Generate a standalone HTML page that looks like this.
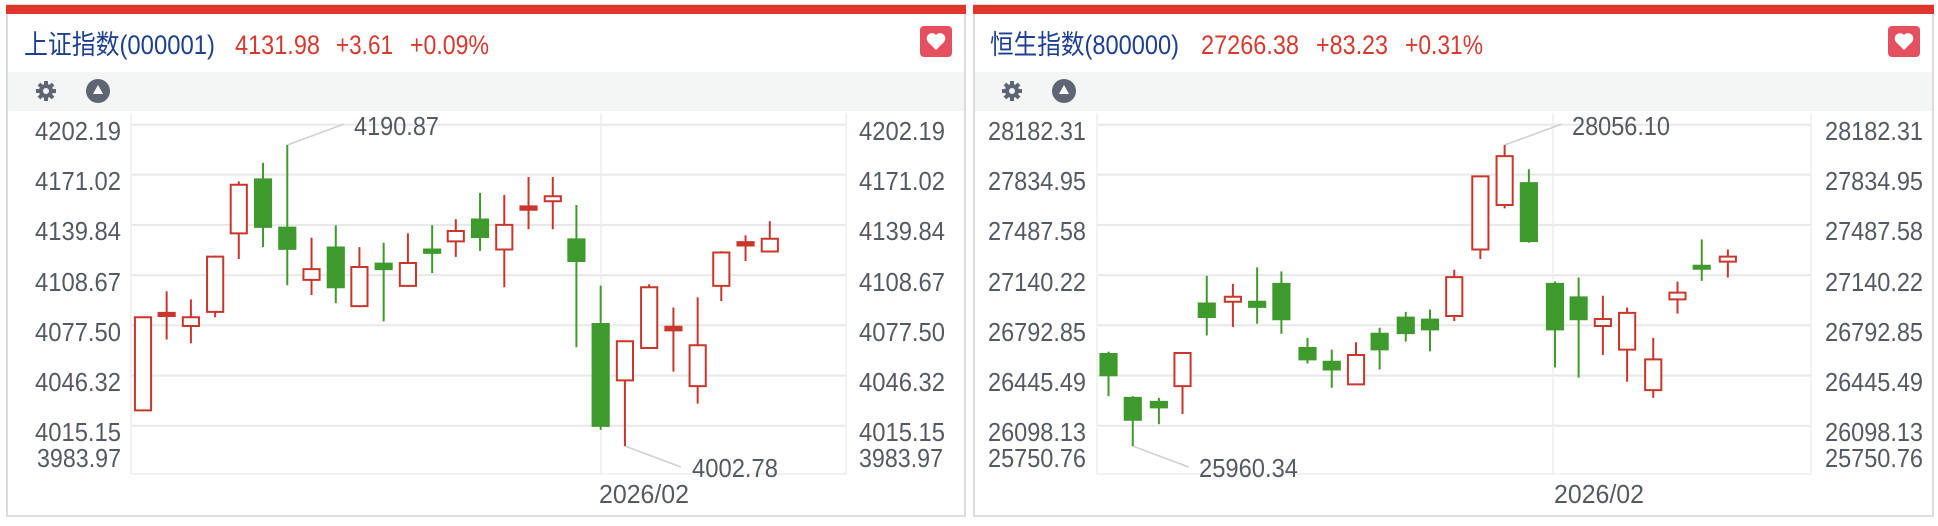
<!DOCTYPE html>
<html><head><meta charset="utf-8"><style>
html,body{margin:0;padding:0;background:#fff;}
svg{display:block;}
text{font-family:"Liberation Sans","Noto Sans CJK SC",sans-serif;}
.lb{font-size:26px;fill:#555a62;}
.an{font-size:26px;fill:#555a62;}
.r{stroke:#c8372d;stroke-width:2;fill:#fff;vector-effect:non-scaling-stroke;}
.rf{stroke:#c8372d;stroke-width:2;fill:#c8372d;vector-effect:non-scaling-stroke;}
.g{stroke:#3f9a2e;stroke-width:2;fill:#3f9a2e;vector-effect:non-scaling-stroke;}
.wr{stroke:#c8372d;stroke-width:2;vector-effect:non-scaling-stroke;}
.wg{stroke:#3f9a2e;stroke-width:2;vector-effect:non-scaling-stroke;}
.al{stroke:#cfcfcf;stroke-width:1.5;vector-effect:non-scaling-stroke;fill:none;}
</style></head><body>
<svg width="1938" height="526" viewBox="0 0 1938 526" xmlns="http://www.w3.org/2000/svg">
<rect x="7" y="5" width="958" height="511" fill="#fff" stroke="#dcdcdc" stroke-width="2"/>
<rect x="974" y="5" width="959" height="511" fill="#fff" stroke="#dcdcdc" stroke-width="2"/>
<rect x="6" y="5" width="960" height="9" fill="#e0352b"/>
<rect x="973" y="5" width="961" height="9" fill="#e0352b"/>
<rect x="8" y="72" width="956" height="39" fill="#f4f6f6"/>
<rect x="975" y="72" width="957" height="39" fill="#f4f6f6"/>
<rect x="920" y="26" width="32" height="31" rx="4" fill="#e5505f"/>
<path d="M936 50 L928 42 A4.5 4.5 0 0 1 936 35 A4.5 4.5 0 0 1 944 42 Z" fill="#fff"/>
<rect x="1888" y="26" width="32" height="31" rx="4" fill="#e5505f"/>
<path d="M1904 50 L1896 42 A4.5 4.5 0 0 1 1904 35 A4.5 4.5 0 0 1 1912 42 Z" fill="#fff"/>
<g fill="#5f6573">
<g transform="translate(46,91)"><circle r="7"/><g stroke="#5f6573" stroke-width="4"><line x1="0" y1="-10" x2="0" y2="10"/><line x1="-10" y1="0" x2="10" y2="0"/><line x1="-7" y1="-7" x2="7" y2="7"/><line x1="-7" y1="7" x2="7" y2="-7"/></g><circle r="3" fill="#f4f6f6"/></g>
<circle cx="98" cy="91" r="12"/><path d="M98 85 L103 94 L93 94 Z" fill="#fff"/>
<g transform="translate(1012,91)"><circle r="7"/><g stroke="#5f6573" stroke-width="4"><line x1="0" y1="-10" x2="0" y2="10"/><line x1="-10" y1="0" x2="10" y2="0"/><line x1="-7" y1="-7" x2="7" y2="7"/><line x1="-7" y1="7" x2="7" y2="-7"/></g><circle r="3" fill="#f4f6f6"/></g>
<circle cx="1064" cy="91" r="12"/><path d="M1064 85 L1069 94 L1059 94 Z" fill="#fff"/>
</g>
<g font-size="27">
<text x="24" y="54" fill="#1f3f8f" textLength="191" lengthAdjust="spacingAndGlyphs">上证指数(000001)</text>
<text x="235" y="54" fill="#d43a2f" textLength="85" lengthAdjust="spacingAndGlyphs">4131.98</text>
<text x="336" y="54" fill="#d43a2f" textLength="57" lengthAdjust="spacingAndGlyphs">+3.61</text>
<text x="410" y="54" fill="#d43a2f" textLength="79" lengthAdjust="spacingAndGlyphs">+0.09%</text>
<text x="990" y="54" fill="#1f3f8f" textLength="189" lengthAdjust="spacingAndGlyphs">恒生指数(800000)</text>
<text x="1201" y="54" fill="#d43a2f" textLength="98" lengthAdjust="spacingAndGlyphs">27266.38</text>
<text x="1316" y="54" fill="#d43a2f" textLength="72" lengthAdjust="spacingAndGlyphs">+83.23</text>
<text x="1405" y="54" fill="#d43a2f" textLength="78" lengthAdjust="spacingAndGlyphs">+0.31%</text>
</g>
<g stroke="#e8e8e8" stroke-width="2">
<line x1="131" y1="124.7" x2="846" y2="124.7"/><line x1="131" y1="174.6" x2="846" y2="174.6"/><line x1="131" y1="224.9" x2="846" y2="224.9"/><line x1="131" y1="275.1" x2="846" y2="275.1"/><line x1="131" y1="325.3" x2="846" y2="325.3"/><line x1="131" y1="375.6" x2="846" y2="375.6"/><line x1="131" y1="425.8" x2="846" y2="425.8"/>
<line x1="1097" y1="124.7" x2="1811" y2="124.7"/><line x1="1097" y1="174.6" x2="1811" y2="174.6"/><line x1="1097" y1="224.9" x2="1811" y2="224.9"/><line x1="1097" y1="275.1" x2="1811" y2="275.1"/><line x1="1097" y1="325.3" x2="1811" y2="325.3"/><line x1="1097" y1="375.6" x2="1811" y2="375.6"/><line x1="1097" y1="425.8" x2="1811" y2="425.8"/>
</g>
<g stroke="#eeeeee" stroke-width="1.5">
<line x1="131" y1="113" x2="131" y2="474"/><line x1="846" y1="113" x2="846" y2="474"/><line x1="131" y1="474" x2="846" y2="474"/><line x1="601" y1="113" x2="601" y2="474"/>
<line x1="1097" y1="113" x2="1097" y2="474"/><line x1="1811" y1="113" x2="1811" y2="474"/><line x1="1097" y1="474" x2="1811" y2="474"/><line x1="1553" y1="113" x2="1553" y2="474"/>
</g>
<g class="lb" text-anchor="end">
<text x="121" y="140" textLength="86" lengthAdjust="spacingAndGlyphs">4202.19</text>
<text x="121" y="190" textLength="86" lengthAdjust="spacingAndGlyphs">4171.02</text>
<text x="121" y="240" textLength="86" lengthAdjust="spacingAndGlyphs">4139.84</text>
<text x="121" y="291" textLength="86" lengthAdjust="spacingAndGlyphs">4108.67</text>
<text x="121" y="341" textLength="86" lengthAdjust="spacingAndGlyphs">4077.50</text>
<text x="121" y="391" textLength="86" lengthAdjust="spacingAndGlyphs">4046.32</text>
<text x="121" y="441" textLength="86" lengthAdjust="spacingAndGlyphs">4015.15</text>
<text x="121" y="467" textLength="84" lengthAdjust="spacingAndGlyphs">3983.97</text>
</g>
<g class="lb">
<text x="859" y="140" textLength="86" lengthAdjust="spacingAndGlyphs">4202.19</text>
<text x="859" y="190" textLength="86" lengthAdjust="spacingAndGlyphs">4171.02</text>
<text x="859" y="240" textLength="86" lengthAdjust="spacingAndGlyphs">4139.84</text>
<text x="859" y="291" textLength="86" lengthAdjust="spacingAndGlyphs">4108.67</text>
<text x="859" y="341" textLength="86" lengthAdjust="spacingAndGlyphs">4077.50</text>
<text x="859" y="391" textLength="86" lengthAdjust="spacingAndGlyphs">4046.32</text>
<text x="859" y="441" textLength="86" lengthAdjust="spacingAndGlyphs">4015.15</text>
<text x="859" y="467" textLength="84" lengthAdjust="spacingAndGlyphs">3983.97</text>
<text x="599" y="503" textLength="90" lengthAdjust="spacingAndGlyphs">2026/02</text>
</g>
<g class="lb" text-anchor="end">
<text x="1086" y="140" textLength="98" lengthAdjust="spacingAndGlyphs">28182.31</text>
<text x="1086" y="190" textLength="98" lengthAdjust="spacingAndGlyphs">27834.95</text>
<text x="1086" y="240" textLength="98" lengthAdjust="spacingAndGlyphs">27487.58</text>
<text x="1086" y="291" textLength="98" lengthAdjust="spacingAndGlyphs">27140.22</text>
<text x="1086" y="341" textLength="98" lengthAdjust="spacingAndGlyphs">26792.85</text>
<text x="1086" y="391" textLength="98" lengthAdjust="spacingAndGlyphs">26445.49</text>
<text x="1086" y="441" textLength="98" lengthAdjust="spacingAndGlyphs">26098.13</text>
<text x="1086" y="467" textLength="98" lengthAdjust="spacingAndGlyphs">25750.76</text>
</g>
<g class="lb">
<text x="1825" y="140" textLength="98" lengthAdjust="spacingAndGlyphs">28182.31</text>
<text x="1825" y="190" textLength="98" lengthAdjust="spacingAndGlyphs">27834.95</text>
<text x="1825" y="240" textLength="98" lengthAdjust="spacingAndGlyphs">27487.58</text>
<text x="1825" y="291" textLength="98" lengthAdjust="spacingAndGlyphs">27140.22</text>
<text x="1825" y="341" textLength="98" lengthAdjust="spacingAndGlyphs">26792.85</text>
<text x="1825" y="391" textLength="98" lengthAdjust="spacingAndGlyphs">26445.49</text>
<text x="1825" y="441" textLength="98" lengthAdjust="spacingAndGlyphs">26098.13</text>
<text x="1825" y="467" textLength="98" lengthAdjust="spacingAndGlyphs">25750.76</text>
<text x="1554" y="503" textLength="90" lengthAdjust="spacingAndGlyphs">2026/02</text>
</g>
<g class="an">
<text x="354" y="135" textLength="85" lengthAdjust="spacingAndGlyphs">4190.87</text>
<text x="692" y="477" textLength="86" lengthAdjust="spacingAndGlyphs">4002.78</text>
<text x="1572" y="135" textLength="98" lengthAdjust="spacingAndGlyphs">28056.10</text>
<text x="1199" y="477" textLength="99" lengthAdjust="spacingAndGlyphs">25960.34</text>
</g>
<g transform="scale(0.62181,0.33718)">
<path class="al" d="M462 430 L553 368 M1005 1323 L1095 1385"/>
<line class="wr" x1="230" y1="941" x2="230" y2="1220"/><rect class="r" x="217" y="941" width="26" height="276"/>
<line class="wr" x1="268" y1="864" x2="268" y2="1007"/><rect class="rf" x="255" y="928" width="26" height="9"/>
<line class="wr" x1="307" y1="888" x2="307" y2="1018"/><rect class="r" x="294" y="941" width="26" height="26"/>
<line class="wr" x1="346" y1="758" x2="346" y2="941"/><rect class="r" x="333" y="761" width="26" height="164"/>
<line class="wr" x1="384" y1="538" x2="384" y2="768"/><rect class="r" x="371" y="548" width="26" height="144"/>
<line class="wg" x1="423" y1="483" x2="423" y2="733"/><rect class="g" x="410" y="532" width="26" height="141"/>
<line class="wg" x1="462" y1="430" x2="462" y2="846"/><rect class="g" x="449" y="675" width="26" height="63"/>
<line class="wr" x1="501" y1="705" x2="501" y2="875"/><rect class="r" x="488" y="798" width="26" height="32"/>
<line class="wg" x1="540" y1="668" x2="540" y2="899"/><rect class="g" x="527" y="734" width="26" height="118"/>
<line class="wr" x1="578" y1="733" x2="578" y2="911"/><rect class="r" x="565" y="792" width="26" height="116"/>
<line class="wg" x1="617" y1="720" x2="617" y2="953"/><rect class="g" x="604" y="782" width="26" height="16"/>
<line class="wr" x1="656" y1="692" x2="656" y2="848"/><rect class="r" x="643" y="780" width="26" height="68"/>
<line class="wg" x1="695" y1="668" x2="695" y2="810"/><rect class="g" x="682" y="740" width="26" height="10"/>
<line class="wr" x1="733" y1="650" x2="733" y2="762"/><rect class="r" x="720" y="685" width="26" height="31"/>
<line class="wg" x1="772" y1="572" x2="772" y2="744"/><rect class="g" x="759" y="651" width="26" height="52"/>
<line class="wr" x1="811" y1="578" x2="811" y2="852"/><rect class="r" x="798" y="667" width="26" height="73"/>
<line class="wr" x1="850" y1="525" x2="850" y2="680"/><rect class="rf" x="837" y="612" width="26" height="10"/>
<line class="wr" x1="889" y1="525" x2="889" y2="680"/><rect class="r" x="876" y="582" width="26" height="15"/>
<line class="wg" x1="927" y1="608" x2="927" y2="1030"/><rect class="g" x="914" y="710" width="26" height="64"/>
<line class="wg" x1="966" y1="847" x2="966" y2="1275"/><rect class="g" x="953" y="961" width="26" height="302"/>
<line class="wr" x1="1005" y1="1010" x2="1005" y2="1323"/><rect class="r" x="992" y="1012" width="26" height="116"/>
<line class="wr" x1="1044" y1="843" x2="1044" y2="1035"/><rect class="r" x="1031" y="852" width="26" height="180"/>
<line class="wr" x1="1083" y1="912" x2="1083" y2="1102"/><rect class="rf" x="1070" y="969" width="26" height="11"/>
<line class="wr" x1="1122" y1="882" x2="1122" y2="1197"/><rect class="r" x="1109" y="1024" width="26" height="121"/>
<line class="wr" x1="1160" y1="745" x2="1160" y2="893"/><rect class="r" x="1147" y="749" width="26" height="99"/>
<line class="wr" x1="1199" y1="698" x2="1199" y2="774"/><rect class="rf" x="1186" y="718" width="26" height="10"/>
<line class="wr" x1="1238" y1="656" x2="1238" y2="748"/><rect class="r" x="1225" y="708" width="26" height="38"/>
</g>
<g transform="translate(968,0) scale(0.62181,0.33718)">
<path class="al" d="M863 430 L955 368 M265 1323 L355 1385"/>
<line class="wg" x1="226" y1="1043" x2="226" y2="1175"/><rect class="g" x="213" y="1050" width="26" height="63"/>
<line class="wg" x1="265" y1="1175" x2="265" y2="1323"/><rect class="g" x="252" y="1180" width="26" height="65"/>
<line class="wg" x1="307" y1="1180" x2="307" y2="1258"/><rect class="g" x="294" y="1192" width="26" height="16"/>
<line class="wr" x1="345" y1="1047" x2="345" y2="1228"/><rect class="r" x="332" y="1047" width="26" height="98"/>
<line class="wg" x1="384" y1="818" x2="384" y2="995"/><rect class="g" x="371" y="900" width="26" height="40"/>
<line class="wr" x1="426" y1="842" x2="426" y2="970"/><rect class="r" x="413" y="880" width="26" height="15"/>
<line class="wg" x1="465" y1="793" x2="465" y2="960"/><rect class="g" x="452" y="895" width="26" height="15"/>
<line class="wg" x1="504" y1="805" x2="504" y2="990"/><rect class="g" x="491" y="842" width="26" height="105"/>
<line class="wg" x1="546" y1="1002" x2="546" y2="1078"/><rect class="g" x="533" y="1032" width="26" height="34"/>
<line class="wg" x1="585" y1="1037" x2="585" y2="1150"/><rect class="g" x="572" y="1073" width="26" height="23"/>
<line class="wr" x1="624" y1="1015" x2="624" y2="1140"/><rect class="r" x="611" y="1053" width="26" height="87"/>
<line class="wg" x1="662" y1="972" x2="662" y2="1096"/><rect class="g" x="649" y="990" width="26" height="46"/>
<line class="wg" x1="704" y1="925" x2="704" y2="1013"/><rect class="g" x="691" y="942" width="26" height="46"/>
<line class="wg" x1="743" y1="918" x2="743" y2="1042"/><rect class="g" x="730" y="948" width="26" height="29"/>
<line class="wr" x1="782" y1="800" x2="782" y2="952"/><rect class="r" x="769" y="822" width="26" height="115"/>
<line class="wr" x1="824" y1="523" x2="824" y2="768"/><rect class="r" x="811" y="523" width="26" height="217"/>
<line class="wr" x1="863" y1="430" x2="863" y2="618"/><rect class="r" x="850" y="463" width="26" height="145"/>
<line class="wg" x1="902" y1="502" x2="902" y2="720"/><rect class="g" x="889" y="543" width="26" height="172"/>
<line class="wg" x1="944" y1="835" x2="944" y2="1090"/><rect class="g" x="931" y="842" width="26" height="135"/>
<line class="wg" x1="982" y1="823" x2="982" y2="1120"/><rect class="g" x="969" y="882" width="26" height="65"/>
<line class="wr" x1="1021" y1="877" x2="1021" y2="1053"/><rect class="r" x="1008" y="946" width="26" height="21"/>
<line class="wr" x1="1060" y1="912" x2="1060" y2="1132"/><rect class="r" x="1047" y="928" width="26" height="109"/>
<line class="wr" x1="1102" y1="1002" x2="1102" y2="1180"/><rect class="r" x="1089" y="1066" width="26" height="91"/>
<line class="wr" x1="1141" y1="835" x2="1141" y2="930"/><rect class="r" x="1128" y="868" width="26" height="20"/>
<line class="wg" x1="1180" y1="710" x2="1180" y2="833"/><rect class="g" x="1167" y="788" width="26" height="9"/>
<line class="wr" x1="1222" y1="740" x2="1222" y2="823"/><rect class="r" x="1209" y="761" width="26" height="15"/>
</g>
</svg>
</body></html>
